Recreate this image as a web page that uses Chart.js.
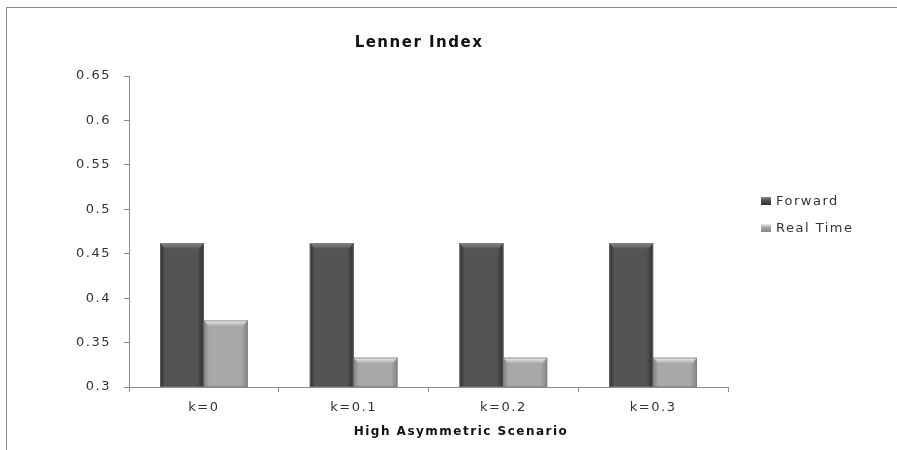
<!DOCTYPE html>
<html>
<head>
<meta charset="utf-8">
<script src="https://cdn.jsdelivr.net/npm/chart.js@4.4.1/dist/chart.umd.min.js"></script>
<style>
  html, body { margin: 0; padding: 0; background: #fff; }
  #wrap { position: relative; width: 897px; height: 450px; overflow: hidden; }
  #frame { position: absolute; left: 6px; top: 7px; width: 900px; height: 460px;
           border-top: 1px solid #8c8c8c; border-left: 1px solid #8c8c8c; }
  canvas { position: absolute; left: 0; top: 0; }
</style>
</head>
<body>
<div id="wrap">
  <div id="frame"></div>
  <canvas id="myChart" width="897" height="450"></canvas>
</div>
<script>
// Datos del gráfico
const categories = ['k=0', 'k=0.1', 'k=0.2', 'k=0.3'];
const forwardValues = [0.462, 0.462, 0.462, 0.462];
const realTimeValues = [0.375, 0.333, 0.333, 0.333];
const seriesNames = ['Forward', 'Real Time'];
const yTickLabels = ['0.3', '0.35', '0.4', '0.45', '0.5', '0.55', '0.6', '0.65'];
const chartTitle = 'Lenner Index';
const xAxisTitle = 'High Asymmetric Scenario';

// Colores de cada serie: borde oscuro, cuerpo, tapa superior
const barStyles = [
    { edge: '#2f2f2f', body: '#545454', cap: '#8a8a8a' },
    { edge: '#858585', body: '#a8a8a8', cap: '#eeeeee' }
];

const FONT = "'DejaVu Sans', sans-serif";

// Espaciado entre letras para imitar el texto ancho del original
const spacingPlugin = {
    id: 'spacing',
    beforeLayout(chart) { chart.ctx.letterSpacing = '1.5px'; },
    beforeDraw(chart) { chart.ctx.letterSpacing = '1.5px'; }
};

// Efecto de barra biselada sobre cada barra dibujada por la librería
const bevelPlugin = {
    id: 'bevel',
    afterDatasetsDraw(chart) {
        const ctx = chart.ctx;
        const area = chart.chartArea;
        chart.data.datasets.forEach((ds, i) => {
            const st = barStyles[i];
            chart.getDatasetMeta(i).data.forEach(bar => {
                const left = bar.x - bar.width / 2;
                const right = bar.x + bar.width / 2;
                const top = bar.y;
                const bottom = Math.min(bar.base, area.bottom);
                ctx.save();
                const g = ctx.createLinearGradient(left, 0, right, 0);
                g.addColorStop(0, st.edge);
                g.addColorStop(0.12, st.body);
                g.addColorStop(0.85, st.body);
                g.addColorStop(1, st.edge);
                ctx.fillStyle = g;
                ctx.fillRect(left, top, right - left, bottom - top);
                // tapa superior
                const capH = 6;
                const cg = ctx.createLinearGradient(0, top, 0, top + capH);
                cg.addColorStop(0, st.cap);
                cg.addColorStop(1, st.body);
                ctx.fillStyle = cg;
                ctx.beginPath();
                ctx.moveTo(left, top);
                ctx.lineTo(right, top);
                ctx.lineTo(right - 5, top + capH);
                ctx.lineTo(left + 5, top + capH);
                ctx.closePath();
                ctx.fill();
                ctx.strokeStyle = 'rgba(120,120,120,0.6)';
                ctx.lineWidth = 1;
                ctx.strokeRect(left + 0.5, top + 0.5, right - left - 1, bottom - top - 1);
                ctx.restore();
            });
        });
    }
};

// Título, título del eje y leyenda propios
const legendPlugin = {
    id: 'sideLegend',
    afterDraw(chart) {
        const ctx = chart.ctx;
        ctx.save();
        ctx.letterSpacing = '1.5px';
        ctx.textBaseline = 'middle';
        ctx.textAlign = 'center';
        ctx.fillStyle = '#111';
        ctx.font = 'bold 15px ' + FONT;
        ctx.fillText(chartTitle, 419, 43);
        ctx.font = 'bold 12px ' + FONT;
        ctx.fillText(xAxisTitle, 461, 432);

        ctx.textAlign = 'left';
        ctx.font = '13px ' + FONT;
        chart.data.datasets.forEach((ds, i) => {
            const st = barStyles[i];
            const y = 201 + i * 27;
            const g = ctx.createLinearGradient(0, y - 4, 0, y + 4);
            g.addColorStop(0, st.cap);
            g.addColorStop(0.4, st.body);
            g.addColorStop(1, st.edge);
            ctx.fillStyle = g;
            ctx.fillRect(761, y - 4, 10, 8);
            ctx.fillStyle = '#333';
            ctx.fillText(ds.label, 776, y + 1);
        });
        ctx.restore();
    }
};

const ctx = document.getElementById('myChart').getContext('2d');

window.myChart = new Chart(ctx, {
    type: 'bar',
    data: {
        labels: categories,
        datasets: [{
            label: seriesNames[0],
            data: forwardValues,
            backgroundColor: barStyles[0].body,
            categoryPercentage: 0.585,
            barPercentage: 1
        }, {
            label: seriesNames[1],
            data: realTimeValues,
            backgroundColor: barStyles[1].body,
            categoryPercentage: 0.585,
            barPercentage: 1
        }]
    },
    options: {
        responsive: false,
        animation: false,
        layout: { padding: { left: 0, right: 169, top: 76, bottom: 0 } },
        scales: {
            x: {
                afterFit: (scale) => { scale.height = 63; },
                grid: { drawOnChartArea: false, tickLength: 5, color: '#8c8c8c' },
                border: { color: '#8c8c8c' },
                ticks: { padding: 8, color: '#333', font: { family: FONT, size: 13 } },
                title: { display: false }
            },
            y: {
                min: 0.3,
                max: 0.65,
                afterFit: (scale) => { scale.width = 129; },
                grid: { drawOnChartArea: false, tickLength: 5, color: '#8c8c8c' },
                border: { color: '#8c8c8c' },
                ticks: {
                    stepSize: 0.05,
                    padding: 13,
                    color: '#333',
                    font: { family: FONT, size: 13 },
                    callback: (v, i) => yTickLabels[i]
                }
            }
        },
        plugins: {
            legend: { display: false },
            tooltip: { enabled: false },
            title: { display: false }
        }
    },
    plugins: [spacingPlugin, bevelPlugin, legendPlugin]
});
</script>
</body>
</html>
